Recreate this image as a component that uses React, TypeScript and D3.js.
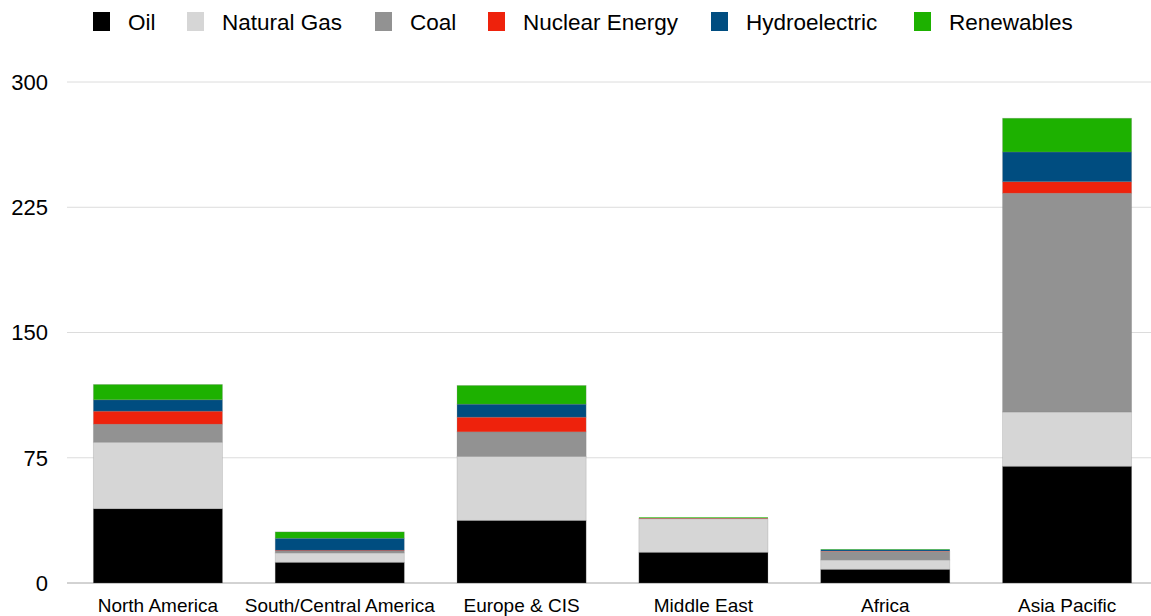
import React from "react";
import * as d3 from "d3";

const regions = ["North America", "South/Central America", "Europe & CIS", "Middle East", "Africa", "Asia Pacific"];
const seriesNames = ["Oil", "Natural Gas", "Coal", "Nuclear Energy", "Hydroelectric", "Renewables"];
const seriesColors = ["#000000", "#d6d6d6", "#929292", "#ee220c", "#004d80", "#1db100"];
const oil = [44.5, 12.4, 37.5, 18.4, 8.2, 69.9];
const gas = [39.8, 5.6, 38.3, 20.0, 5.6, 32.5];
const coal = [10.8, 1.2, 14.7, 0.1, 5.2, 131.0];
const nuclear = [7.8, 0.4, 8.8, 0.3, 0.2, 6.9];
const hydro = [6.8, 7.2, 7.8, 0.1, 0.8, 17.8];
const renewables = [9.2, 3.8, 11.2, 0.4, 0.3, 20.2];
const yTicks = [0, 75, 150, 225, 300];

const W = 1151;
const H = 616;

export default function App() {
  const series = [oil, gas, coal, nuclear, hydro, renewables];
  const rows = regions.map((r, i) => {
    const o: any = { region: r };
    seriesNames.forEach((s, j) => (o[s] = series[j][i]));
    return o;
  });
  const stacked = d3.stack<any>().keys(seriesNames)(rows);

  const x = d3.scaleBand<string>().domain(regions).range([67, 1158]).paddingInner(0.29).paddingOuter(0.145);
  const y = d3.scaleLinear().domain([0, 300]).range([583, 82]);

  const legendX = [93, 187, 375, 488, 711, 914];

  return (
    <svg width={W} height={H} style={{ position: "absolute", left: 0, top: 0, fontFamily: "'Liberation Sans', Arial, Helvetica, sans-serif" }}>
      <rect x={0} y={0} width={W} height={H} fill="#ffffff" />
      {yTicks.map((t) => (
        <g key={t}>
          <line x1={67} x2={W} y1={y(t)} y2={y(t)} stroke={t === 0 ? "#a6a6a6" : "#dcdcdc"} strokeWidth={1} />
          <text x={48} y={y(t)} dy="0.36em" textAnchor="end" fontSize={22} fill="#000">{t}</text>
        </g>
      ))}
      {stacked.map((s, si) => (
        <g key={s.key}>
          {s.map((d, i) => {
            const h = Math.max(0, y(d[0]) - y(d[1]));
            return (
              <rect
                key={i}
                x={x(regions[i])}
                width={x.bandwidth()}
                y={y(d[1])}
                height={h}
                fill={seriesColors[si]}
                stroke="#808080"
                strokeOpacity={h > 2 ? 0.3 : 0}
                strokeWidth={0.8}
              />
            );
          })}
        </g>
      ))}
      {regions.map((r) => (
        <text key={r} x={(x(r) as number) + x.bandwidth() / 2} y={605} dy="0.36em" textAnchor="middle" fontSize={19} fill="#000">{r}</text>
      ))}
      {seriesNames.map((s, i) => (
        <g key={s}>
          <rect x={legendX[i]} y={12} width={17} height={19} fill={seriesColors[i]} />
          <text x={legendX[i] + 35} y={22} dy="0.36em" fontSize={22.5} fill="#000">{s}</text>
        </g>
      ))}
    </svg>
  );
}
